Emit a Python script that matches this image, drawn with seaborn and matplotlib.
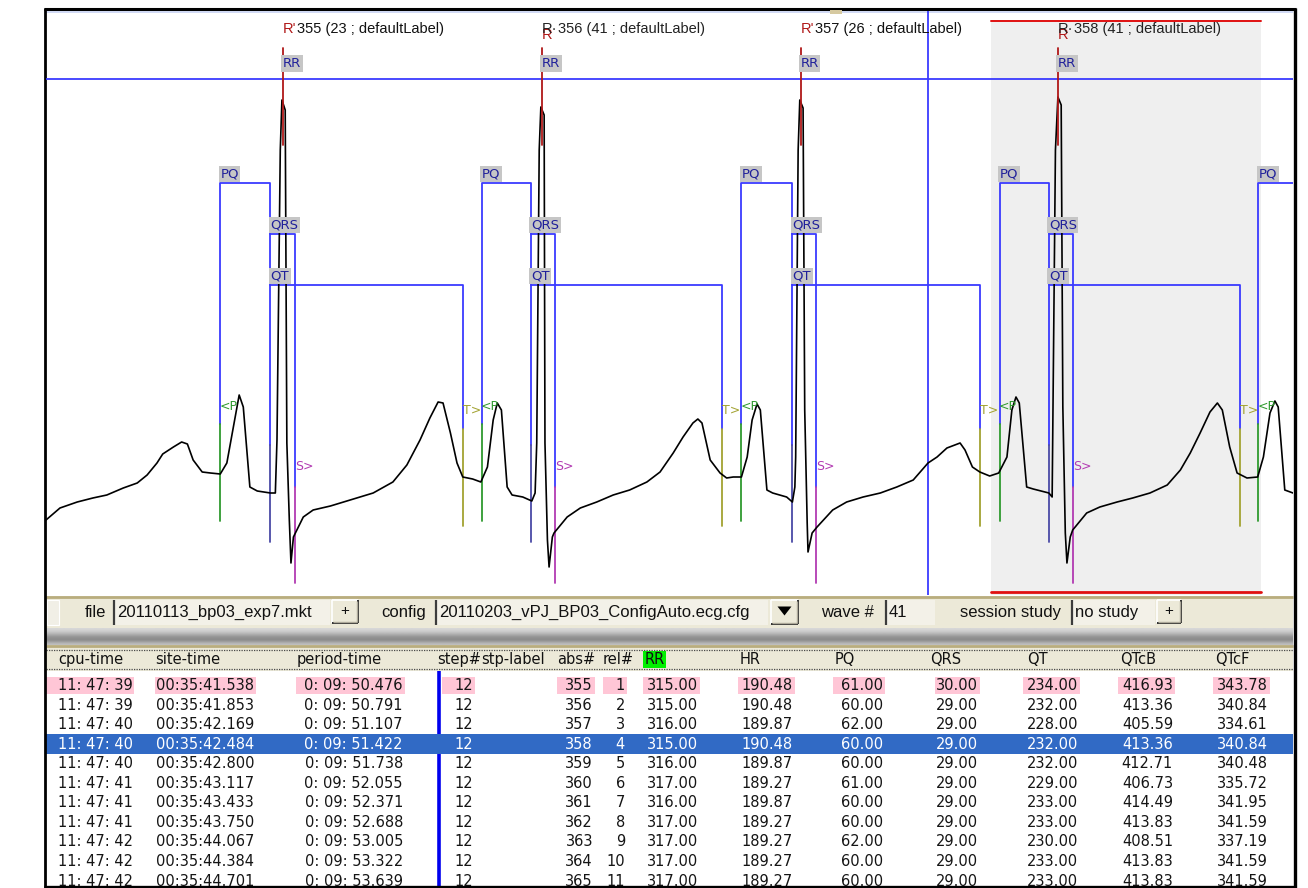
import matplotlib
matplotlib.use("Agg")
import matplotlib.pyplot as plt
from matplotlib.patches import Rectangle, Polygon
import numpy as np
import pandas as pd
import seaborn as sns

# ---------------- ECG trace: time (ms from window start) and amplitude (mV) ----------------
ecg_t_ms = [0, 17, 38, 57, 74, 94, 111, 123, 135, 142, 155, 165, 172, 179, 190, 200, 212, 220,
            228, 235, 240, 248, 257, 273, 279, 281, 285, 287, 291, 293, 296, 298, 301, 313, 325,
            346, 378, 398, 422, 439, 455, 467, 477, 483, 492, 500, 507, 519, 529,
            537, 544, 549, 554, 561, 567, 580, 591, 595, 597, 600, 602, 606, 607, 610, 612, 616,
            618, 634, 650, 670, 690, 710, 731, 747, 763, 775, 787, 793, 798, 808, 820, 828, 836, 846,
            853, 859, 865, 869, 877, 884, 901, 908, 911, 912, 915, 917, 921, 923, 926, 927, 932,
            938, 957, 974, 994, 1015, 1035, 1055, 1073, 1084, 1096, 1112, 1118, 1127, 1136, 1148, 1159,
            1169, 1175, 1180, 1184, 1193, 1201, 1220, 1224, 1225, 1228, 1231, 1235, 1237, 1240, 1242,
            1246, 1249, 1266, 1282, 1303, 1322, 1343, 1364, 1380, 1392, 1404, 1416, 1425, 1431, 1440,
            1449, 1461, 1474, 1481, 1489, 1495, 1499, 1507, 1517]
ecg_mv = [-0.20, -0.08, -0.02, 0.02, 0.05, 0.12, 0.17, 0.25, 0.37, 0.46, 0.53, 0.58, 0.56, 0.40,
          0.28, 0.27, 0.26, 0.37, 0.73, 1.05, 0.93, 0.13, 0.09, 0.07, 0.07, 0.60, 3.50, 4.00, 3.90,
          0.57, -0.20, -0.63, -0.37, -0.17, -0.10, -0.06, 0.02, 0.07, 0.18, 0.35, 0.60, 0.82, 0.98,
          0.97, 0.67, 0.37, 0.23, 0.21, 0.18,
          0.33, 0.80, 0.97, 0.90, 0.13, 0.05, 0.03, -0.01, 0.07, 0.57, 3.50, 3.93, 3.85, 0.57,
          -0.40, -0.67, -0.37, -0.33, -0.17, -0.08, -0.02, 0.05, 0.10, 0.18, 0.28, 0.47, 0.63, 0.77,
          0.81, 0.77, 0.40, 0.27, 0.22, 0.23, 0.23,
          0.43, 0.80, 0.96, 0.90, 0.10, 0.07, 0.03, -0.02, 0.13, 0.43, 3.50, 4.00, 3.92, 0.90,
          -0.23, -0.52, -0.33, -0.27, -0.10, -0.02, 0.03, 0.07, 0.13, 0.20, 0.37, 0.43, 0.52, 0.57,
          0.50, 0.33, 0.28, 0.24, 0.27,
          0.43, 0.90, 1.03, 0.97, 0.13, 0.11, 0.07, 0.03, 0.87, 3.50, 4.03, 3.95, 0.93, -0.33,
          -0.63, -0.37, -0.30, -0.13, -0.07, -0.02, 0.02, 0.07, 0.15, 0.30, 0.47, 0.67, 0.88, 0.97,
          0.90, 0.53, 0.27, 0.22, 0.23, 0.43, 0.87, 0.99, 0.93, 0.10, 0.07]

# beats shown in the window (the fifth one only starts at the right edge)
beat_id = [355, 356, 357, 358]
beat_tag = [23, 41, 26, 41]
r_peak_ms = [288, 603, 918, 1231]
q_onset_ms = [273, 590, 908, 1220, 1535]
selected_beat_ms = [1150, 1478]
cursor_ms = 1073

# ---------------- result table ----------------
cpu_time = ["11: 47: 39", "11: 47: 39", "11: 47: 40", "11: 47: 40", "11: 47: 40", "11: 47: 41",
            "11: 47: 41", "11: 47: 41", "11: 47: 42", "11: 47: 42", "11: 47: 42"]
site_time = ["00:35:41.538", "00:35:41.853", "00:35:42.169", "00:35:42.484", "00:35:42.800",
             "00:35:43.117", "00:35:43.433", "00:35:43.750", "00:35:44.067", "00:35:44.384",
             "00:35:44.701"]
period_time = ["0: 09: 50.476", "0: 09: 50.791", "0: 09: 51.107", "0: 09: 51.422", "0: 09: 51.738",
               "0: 09: 52.055", "0: 09: 52.371", "0: 09: 52.688", "0: 09: 53.005", "0: 09: 53.322",
               "0: 09: 53.639"]
step_no = [12, 12, 12, 12, 12, 12, 12, 12, 12, 12, 12]
abs_no = [355, 356, 357, 358, 359, 360, 361, 362, 363, 364, 365]
rel_no = [1, 2, 3, 4, 5, 6, 7, 8, 9, 10, 11]
rr = [315, 315, 316, 315, 316, 317, 316, 317, 317, 317, 317]
hr = [190.48, 190.48, 189.87, 190.48, 189.87, 189.27, 189.87, 189.27, 189.27, 189.27, 189.27]
pq = [61, 60, 62, 60, 60, 61, 60, 60, 62, 60, 60]
qrs = [30, 29, 29, 29, 29, 29, 29, 29, 29, 29, 29]
qt = [234, 232, 228, 232, 232, 229, 233, 233, 230, 233, 233]
qtcb = [416.93, 413.36, 405.59, 413.36, 412.71, 406.73, 414.49, 413.83, 408.51, 413.83, 413.83]
qtcf = [343.78, 340.84, 334.61, 340.84, 340.48, 335.72, 341.95, 341.59, 337.19, 341.59, 341.59]
selected_row = 3

headers = ["cpu-time", "site-time", "period-time", "step#", "stp-label", "abs#", "rel#", "RR",
           "HR", "PQ", "QRS", "QT", "QTcB", "QTcF"]

# ---------------- style ----------------
sns.set_theme(style="white")
plt.rcParams["font.family"] = ["DejaVu Sans"]
UI_FONT = ["Liberation Sans", "DejaVu Sans"]

BLUE = "#3a3aff"
LBL_TXT = "#20209a"
LBL_BG = "#c6c6c6"
RED_R = "#b01818"
GREEN = "#2f9a2f"
OLIVE = "#a3a332"
MAGENTA = "#b23ab2"
QDARK = "#4a4aa6"
BEIGE = "#ece9d8"

W, H = 1308, 888
fig = plt.figure(figsize=(W / 100, H / 100), dpi=100)
fig.patch.set_facecolor("white")

# pixel-space canvas for the window chrome and the table
bg = fig.add_axes([0, 0, 1, 1], zorder=0)
bg.set_xlim(0, W)
bg.set_ylim(H, 0)
bg.set_axis_off()


def box(x0, y0, x1, y1, fc, z=1, ec="none", lw=0):
    bg.add_patch(Rectangle((x0, y0), x1 - x0, y1 - y0, fc=fc, ec=ec, lw=lw, zorder=z))


def seg(xs, ys, color, lw=1.0, z=3, **kw):
    bg.plot(xs, ys, color=color, lw=lw, zorder=z, solid_capstyle="butt", **kw)


def raised_button(x0, y0, x1, y1):
    box(x0, y0, x1, y1, BEIGE, z=2)
    seg([x0, x1], [y0, y0], "white", 1.2)
    seg([x0, x0], [y0, y1], "white", 1.2)
    seg([x0, x1], [y1, y1], "#303030", 1.4)
    seg([x1, x1], [y0, y1], "#303030", 1.4)
    seg([x0 + 1, x1 - 1], [y1 - 1.5, y1 - 1.5], "#aca899", 1.0)
    seg([x1 - 1.5, x1 - 1.5], [y0 + 1, y1 - 1], "#aca899", 1.0)


def field(x0, x1, text):
    box(x0, 600, x1, 625, "#f3f1e8", z=2)
    seg([x0 + 1, x0 + 1], [600, 625], "#3c3c3c", 1.6)
    bg.text(x0 + 4, 612.5, text, ha="left", va="center", fontsize=12, family=UI_FONT,
            color="#111111", zorder=4)


# ---- toolbar ----
box(46, 596, 1293, 628, BEIGE)
seg([46, 1293], [597, 597], "#b9ad7e", 2.0)
box(47, 600, 59, 625, "#f1efe6", z=2, ec="#ffffff", lw=0.8)
bg.text(85, 612.5, "file", ha="left", va="center", fontsize=12, family=UI_FONT, color="#111111")
field(113, 330, "20110113_bp03_exp7.mkt")
raised_button(332, 600, 358, 623)
bg.text(345, 611, "+", ha="center", va="center", fontsize=11, family=UI_FONT, color="#111111",
        zorder=4)
bg.text(381, 612.5, "config", ha="left", va="center", fontsize=12, family=UI_FONT, color="#111111")
field(435, 768, "20110203_vPJ_BP03_ConfigAuto.ecg.cfg")
raised_button(771, 600, 798, 624)
bg.add_patch(Polygon([[777.5, 606.5], [791.5, 606.5], [784.5, 615.5]], closed=True,
                     fc="black", ec="none", zorder=4))
bg.text(821, 612.5, "wave #", ha="left", va="center", fontsize=12, family=UI_FONT, color="#111111")
field(885, 935, "41")
bg.text(960, 612.5, "session study", ha="left", va="center", fontsize=12, family=UI_FONT,
        color="#111111")
field(1071, 1155, "no study")
raised_button(1157, 600, 1181, 623)
bg.text(1169, 611, "+", ha="center", va="center", fontsize=11, family=UI_FONT, color="#111111",
        zorder=4)

# ---- splitter bar ----
grad = np.array([0.84, 0.82, 0.78, 0.72, 0.66, 0.60, 0.56, 0.55, 0.60, 0.68, 0.74]).reshape(-1, 1)
bg.imshow(np.repeat(grad, 2, axis=1), cmap="gray", vmin=0, vmax=1, aspect="auto",
          extent=(46, 1293, 645, 628), zorder=1, interpolation="bilinear")

# ---- table header ----
box(46, 645, 1293, 671, BEIGE)
seg([46, 1293], [646, 646], "#b9ad7e", 2.0)
seg([46, 1293], [649.5, 649.5], "#4a4a4a", 0.9, linestyle=(0, (1, 1)))
seg([46, 1293], [668.5, 668.5], "#4a4a4a", 0.9, linestyle=(0, (1, 1)))
box(643, 650.5, 666, 667.5, "#00f000", z=2)
header_x = [58, 155, 297, 437, 481, 557, 603, 645, 740, 835, 930, 1027, 1120, 1215]
for hx, name in zip(header_x, headers):
    bg.text(hx, 659.5, name, ha="left", va="center", fontsize=10.5, color="#111111", zorder=4)

# ---- table body ----
box(46, 671, 1293, 887, "white")
row_y0, row_dy = 685.5, 19.55
columns = [
    # values, anchor x, alignment, highlight span
    (cpu_time, 58, "left", (46, 134)),
    (site_time, 156, "left", (155, 256)),
    (period_time, 403, "right", (296, 405)),
    ([str(v) for v in step_no], 473, "right", (442, 475)),
    ([str(v) for v in abs_no], 593, "right", (557, 595)),
    ([str(v) for v in rel_no], 625, "right", (603, 627)),
    ([f"{v:.2f}" for v in rr], 698, "right", (643, 700)),
    ([f"{v:.2f}" for v in hr], 793, "right", (738, 795)),
    ([f"{v:.2f}" for v in pq], 883, "right", (833, 885)),
    ([f"{v:.2f}" for v in qrs], 978, "right", (935, 980)),
    ([f"{v:.2f}" for v in qt], 1078, "right", (1023, 1080)),
    ([f"{v:.2f}" for v in qtcb], 1173, "right", (1118, 1175)),
    ([f"{v:.2f}" for v in qtcf], 1268, "right", (1213, 1270)),
]
seg([438.5, 438.5], [671, 887], "#0000ee", 2.6, z=1.5)
yc_sel = row_y0 + selected_row * row_dy
box(46, yc_sel - 10.5, 1293, yc_sel + 9.5, "#316ac5", z=2)
for values, ax_x, align, (h0, h1) in columns:
    box(h0, row_y0 - 8.5, h1, row_y0 + 8.5, "#ffc6d6", z=1.6)
    for i, txt in enumerate(values):
        yc = row_y0 + i * row_dy
        col = "white" if i == selected_row else "#151515"
        bg.text(ax_x, yc, txt, ha=align, va="center", fontsize=10.5, color=col, zorder=4)

# ---- window frame ----
seg([44, 1296], [9.5, 9.5], "black", 2.2, z=6)
seg([46, 1293], [12, 12], "#c9d3f3", 1.2, z=6)
seg([45, 45], [8.5, 888], "black", 2.0, z=6)
seg([1294.5, 1294.5], [8.5, 888], "black", 2.4, z=6)
seg([44, 1296], [887, 887], "black", 2.4, z=6)
box(830, 10.5, 842, 14.5, "#d6c9a0", z=6)

# ---------------- ECG panel ----------------
ecg = fig.add_axes([46 / W, 1 - 595 / H, 1247 / W, 584 / H], zorder=1)

ecg.add_patch(Rectangle((selected_beat_ms[0], -0.95), selected_beat_ms[1] - selected_beat_ms[0],
                        4.79 + 0.95, fc="#efefef", ec="none", zorder=0.5))
ecg.plot(selected_beat_ms, [4.79, 4.79], color="#e01010", lw=1.4, zorder=1)
ecg.plot(selected_beat_ms, [-0.925, -0.925], color="#e01010", lw=2.0, zorder=1)

ecg.axhline(4.21, color=BLUE, lw=1.3, zorder=2)
ecg.axvline(cursor_ms, color=BLUE, lw=1.3, zorder=2)

lbl_kw = dict(fontsize=9.5, color=LBL_TXT, ha="left", va="bottom", zorder=6,
              bbox=dict(boxstyle="square,pad=0.12", fc=LBL_BG, ec="none"))
mk_kw = dict(fontsize=9, ha="left", va="center", zorder=6)

n_beats = len(q_onset_ms)
for i in range(n_beats):
    q = q_onset_ms[i]
    p = q - pq[i]
    # PQ interval bracket and P onset marker
    ecg.plot([p, p, q, q], [0.76, 3.17, 3.17, 0.55], color=BLUE, lw=1.3, zorder=2)
    ecg.plot([p, p], [-0.21, 0.76], color=GREEN, lw=1.3, zorder=2)
    ecg.text(p, 3.195, "PQ", **lbl_kw)
    ecg.text(p - 1, 0.94, "<P", color=GREEN, **mk_kw)
    if i >= len(beat_id):
        continue
    s = q + qrs[i]
    t = q + qt[i]
    ecg.plot([q, q], [-0.42, 0.55], color=QDARK, lw=1.3, zorder=2)
    # QRS bracket and S end marker
    ecg.plot([q, s, s], [2.66, 2.66, 0.13], color=BLUE, lw=1.3, zorder=2)
    ecg.plot([s, s], [-0.83, 0.13], color=MAGENTA, lw=1.3, zorder=2)
    ecg.text(q, 2.685, "QRS", **lbl_kw)
    ecg.text(s, 0.34, "S>", color=MAGENTA, **mk_kw)
    # QT bracket and T end marker
    ecg.plot([q, t, t], [2.15, 2.15, 0.71], color=BLUE, lw=1.3, zorder=2)
    ecg.plot([t, t], [-0.26, 0.71], color=OLIVE, lw=1.3, zorder=2)
    ecg.text(q, 2.175, "QT", **lbl_kw)
    ecg.text(t, 0.90, "T>", color=OLIVE, **mk_kw)

trace = pd.DataFrame({"t_ms": ecg_t_ms, "mv": ecg_mv})
sns.lineplot(data=trace, x="t_ms", y="mv", ax=ecg, color="black", lw=1.2,
             estimator=None, sort=False, zorder=4)

label_base = 4.665
for k, (bid, tag, r) in enumerate(zip(beat_id, beat_tag, r_peak_ms)):
    ecg.plot([r, r], [3.55, 4.52], color=RED_R, lw=1.3, zorder=5)
    ecg.text(r, 4.30, "RR", **lbl_kw)
    rest = f"{bid} ({tag} ; defaultLabel)"
    if k % 2 == 0:
        head = ecg.text(r, label_base, "R'", fontsize=10.5, family=UI_FONT, color=RED_R,
                        ha="left", va="baseline", zorder=7)
        ecg.annotate(rest, xy=(1, 0), xycoords=head, xytext=(0.5, 0),
                     textcoords="offset points", fontsize=10.5, family=UI_FONT,
                     color="#111111", ha="left", va="bottom", zorder=6)
    else:
        head = ecg.text(r, label_base, "R·", fontsize=10.5, family=UI_FONT, color="#222222",
                        ha="left", va="baseline", zorder=7)
        ecg.annotate(rest, xy=(1, 0), xycoords=head, xytext=(0.5, 0),
                     textcoords="offset points", fontsize=10.5, family=UI_FONT,
                     color="#222222", ha="left", va="bottom", zorder=6)
        ecg.text(r, label_base - 0.055, "R", fontsize=10.5, family=UI_FONT, color=RED_R,
                 ha="left", va="baseline", zorder=6)

ecg.set_xlim(0, 1517)
ecg.set_ylim(-0.95, 4.89)
ecg.set_axis_off()

fig.savefig("out.png", dpi=100, facecolor="white")
